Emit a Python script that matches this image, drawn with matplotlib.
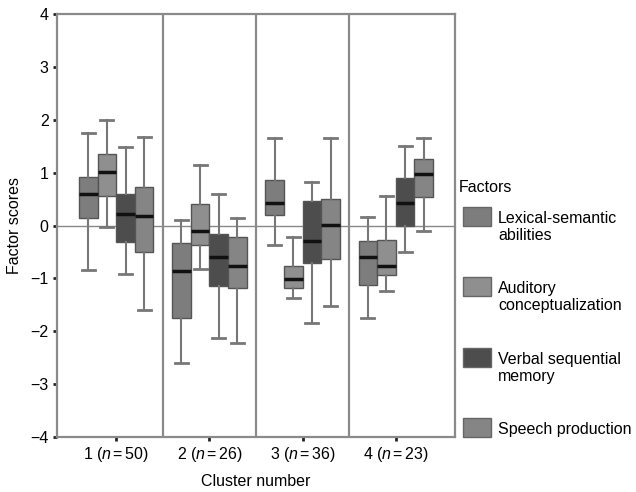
import matplotlib
matplotlib.use("Agg")
import matplotlib.pyplot as plt
from matplotlib.patches import Rectangle

plt.rcParams['font.family'] = ['Liberation Sans', 'DejaVu Sans']
plt.rcParams['mathtext.fontset'] = 'custom'
plt.rcParams['mathtext.rm'] = 'Liberation Sans'
plt.rcParams['mathtext.it'] = 'Liberation Sans:italic'

clusters = [r'1 ($n$$\,$=$\,$50)', r'2 ($n$$\,$=$\,$26)',
            r'3 ($n$$\,$=$\,$36)', r'4 ($n$$\,$=$\,$23)']
factors = ['Lexical-semantic\nabilities', 'Auditory\nconceptualization',
           'Verbal sequential\nmemory', 'Speech production']
colors = ['#7d7d7d', '#8f8f8f', '#4d4d4d', '#858585']

# per factor: values for clusters 1..4
whislo = [[-0.85, -2.60, -0.36, -1.75],
          [-0.02, -0.83, -1.37, -1.23],
          [-0.92, -2.12, -1.85, -0.51],
          [-1.59, -2.23, -1.52, -0.11]]
q1 = [[0.15, -1.74, 0.19, -1.13],
      [0.56, -0.36, -1.19, -0.94],
      [-0.32, -1.14, -0.70, 0.00],
      [-0.51, -1.19, -0.63, 0.53]]
med = [[0.59, -0.86, 0.42, -0.60],
       [1.01, -0.10, -1.01, -0.76],
       [0.22, -0.60, -0.30, 0.43],
       [0.18, -0.77, 0.01, 0.97]]
q3 = [[0.92, -0.33, 0.86, -0.29],
      [1.35, 0.41, -0.76, -0.27],
      [0.60, -0.16, 0.46, 0.89],
      [0.72, -0.22, 0.51, 1.25]]
whishi = [[1.75, 0.10, 1.66, 0.16],
          [2.00, 1.14, -0.22, 0.56],
          [1.48, 0.59, 0.83, 1.51],
          [1.67, 0.15, 1.66, 1.66]]

fs = 11.5
fig = plt.figure(figsize=(6.36, 4.92), dpi=100)
ax = fig.add_axes([57 / 636, 1 - 437 / 492, 398 / 636, 423 / 492])

offsets = [-0.3, -0.1, 0.1, 0.3]
for f in range(4):
    stats = []
    for c in range(4):
        stats.append(dict(whislo=whislo[f][c], q1=q1[f][c], med=med[f][c],
                          q3=q3[f][c], whishi=whishi[f][c], fliers=[]))
    pos = [c + offsets[f] for c in range(4)]
    ax.bxp(stats, positions=pos, widths=0.2, capwidths=0.14, patch_artist=True,
           showfliers=False, manage_ticks=False,
           boxprops=dict(facecolor=colors[f], edgecolor='#555555', linewidth=1),
           medianprops=dict(color='#111111', linewidth=2.5),
           whiskerprops=dict(color='#777777', linewidth=1.5),
           capprops=dict(color='#777777', linewidth=2))

ax.axhline(0, color='#888888', lw=1, zorder=0)
for s in [0.5, 1.5, 2.5]:
    ax.axvline(s, color='#8a8a8a', lw=1.6, zorder=0)

ax.set_xlim(-0.635, 3.635)
ax.set_ylim(-4, 4)
ax.set_xticks(range(4))
ax.set_xticklabels(clusters, fontsize=fs)
ax.set_yticks(range(-4, 5))
ax.tick_params(axis='both', length=3, width=2, color='#222222', labelsize=fs, pad=3)
for sp in ax.spines.values():
    sp.set_color('#8a8a8a')
    sp.set_linewidth(1.6)

ax.set_ylabel('Factor scores', fontsize=fs, labelpad=6)
ax.set_xlabel('Cluster number', fontsize=fs, labelpad=7)

# legend
fig.text(459 / 636, 1 - 187 / 492, 'Factors', fontsize=fs, va='center', ha='left')
tops = [207, 277, 348, 418]
for f in range(4):
    fig.patches.append(Rectangle((463 / 636, 1 - (tops[f] + 19) / 492), 28 / 636, 19 / 492,
                                 transform=fig.transFigure, facecolor=colors[f],
                                 edgecolor='#666666', lw=1))
    fig.text(498 / 636, 1 - (tops[f] + 4) / 492, factors[f], fontsize=fs,
             va='top', ha='left', linespacing=1.15)

fig.savefig('out.png', dpi=100)
